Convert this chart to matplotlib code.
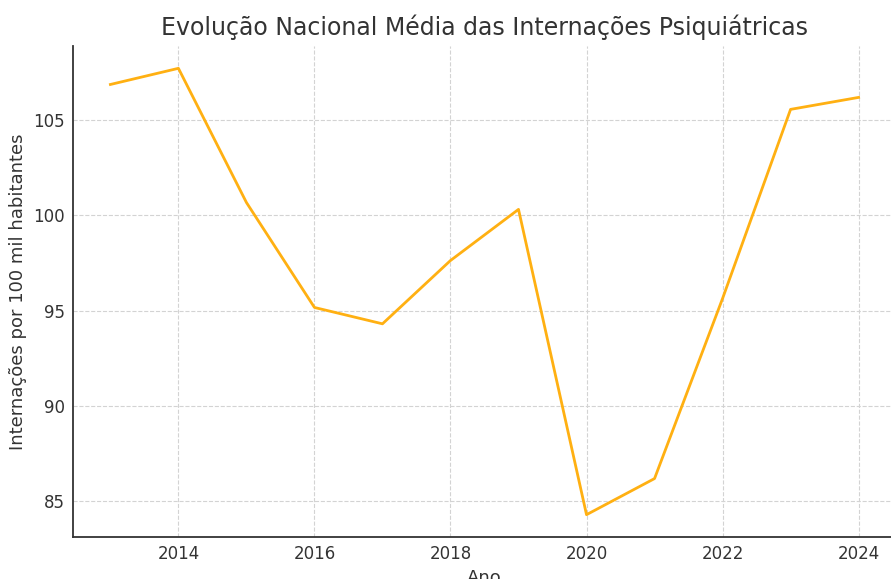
import matplotlib
matplotlib.use('Agg')
import matplotlib.pyplot as plt

# media nacional por ano
anos = [2013, 2014, 2015, 2016, 2017, 2018, 2019, 2020, 2021, 2022, 2023, 2024]
internacoes = [106.89, 107.74, 100.68, 95.16, 94.30, 97.63, 100.32, 84.26, 86.16, 95.63, 105.58, 106.21]

fig = plt.figure(figsize=(8.91, 5.79), dpi=100)
ax = fig.add_axes([73/891, 42/579, (896-73)/891, (537-46)/579])

ax.plot(anos, internacoes, color='#FFB012', linewidth=2)

ax.set_title('Evolução Nacional Média das Internações Psiquiátricas', fontsize=17, color='#333333', pad=8)
ax.set_xlabel('Ano', fontsize=13, color='#333333', labelpad=4)
ax.set_ylabel('Internações por 100 mil habitantes', fontsize=13, color='#333333')
ax.set_xticks([2014, 2016, 2018, 2020, 2022, 2024])
ax.set_yticks([85, 90, 95, 100, 105])
ax.tick_params(labelsize=12, length=0, pad=6, colors='#333333')
ax.grid(True, linestyle='--', color='#d3d3d3', linewidth=0.8)
ax.spines['top'].set_visible(False)
ax.spines['right'].set_visible(False)
for s in ['left', 'bottom']:
    ax.spines[s].set_color('#333333')
    ax.spines[s].set_linewidth(1.3)

fig.savefig('out.png', dpi=100)
